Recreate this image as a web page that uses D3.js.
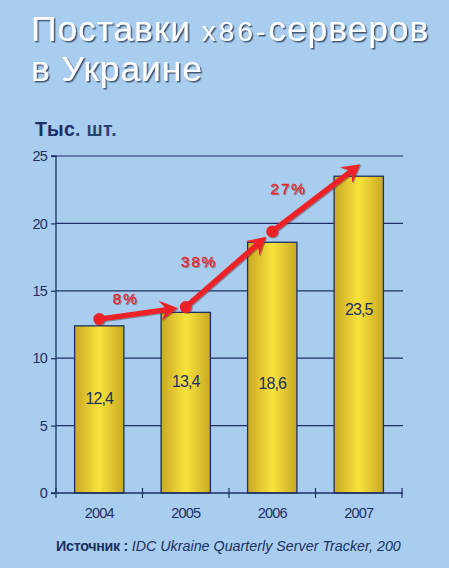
<!DOCTYPE html>
<html><head><meta charset="utf-8">
<script src="https://cdnjs.cloudflare.com/ajax/libs/d3/7.8.5/d3.min.js"></script>
<style>html,body{margin:0;padding:0;background:#a9cdee;}svg{display:block;}</style>
</head><body>
<script>
const years = ["2004", "2005", "2006", "2007"];
const shipments = [12.4, 13.4, 18.6, 23.5];
const shipmentLabels = ["12,4", "13,4", "18,6", "23,5"];
const labelAt = [6.9, 8.2, 8.0, 13.5];
const trendPoints = [12.9, 13.8, 19.4, 24.3];
const growthLabels = ["8%", "38%", "27%"];
const growthLabelAt = [14.3, 17.1, 22.5];
const yTicks = [0, 5, 10, 15, 20, 25];

const W = 449, H = 568;
const font = "Liberation Sans, Arial, sans-serif";
const svg = d3.select("body").append("svg").attr("width", W).attr("height", H);
svg.append("rect").attr("width", W).attr("height", H).attr("fill", "#a9cdee");

const navy = "#1d2f63";
const red = "#ee2226";
const x = d3.scaleBand().domain(years).range([56, 402]).paddingInner(0.43).paddingOuter(0.215);
const xb = d3.scaleBand().domain(years).range([56, 402]).padding(0);
const y = d3.scaleLinear().domain([0, 25]).range([493, 156]);

const defs = svg.append("defs");
const grad = defs.append("linearGradient").attr("id", "gold").attr("x1", "0").attr("x2", "1").attr("y1", "0").attr("y2", "0");
grad.append("stop").attr("offset", "0").attr("stop-color", "#c9a824");
grad.append("stop").attr("offset", "0.5").attr("stop-color", "#f8e33c");
grad.append("stop").attr("offset", "1").attr("stop-color", "#c9a824");
const sh = defs.append("filter").attr("id", "tshadow").attr("x", "-10%").attr("y", "-10%").attr("width", "130%").attr("height", "140%");
sh.append("feDropShadow").attr("dx", 1.5).attr("dy", 1.5).attr("stdDeviation", 0.6).attr("flood-color", "#2a3a55").attr("flood-opacity", 0.8);
const sh2 = defs.append("filter").attr("id", "rshadow").attr("x", "-10%").attr("y", "-10%").attr("width", "130%").attr("height", "140%");
sh2.append("feDropShadow").attr("dx", 1).attr("dy", 1).attr("stdDeviation", 0.5).attr("flood-color", "#3a2a2a").attr("flood-opacity", 0.45);

// Title (two separate lines)
const title1 = svg.append("text").attr("x", 31).attr("y", 41).attr("fill", "#ffffff").attr("filter", "url(#tshadow)")
  .attr("font-family", font).attr("font-size", 35.5).attr("letter-spacing", 0.9);
title1.append("tspan").text("Поставки ");
title1.append("tspan").attr("font-size", 28).attr("letter-spacing", 3).text("x86-");
title1.append("tspan").text("серверов");
svg.append("text").attr("x", 31).attr("y", 81).attr("fill", "#ffffff").attr("filter", "url(#tshadow)")
  .attr("font-family", font).attr("font-size", 35.5).attr("letter-spacing", 0.9).text("в Украине");

// Unit label
const unit = svg.append("text").attr("x", 35).attr("y", 136).attr("fill", navy)
  .attr("font-family", font).attr("font-size", 19.5).attr("letter-spacing", 0.3);
unit.append("tspan").attr("font-weight", "bold").text("Тыс");
unit.append("tspan").attr("font-weight", "bold").attr("fill-opacity", 0.9).text(". шт.");

// Gridlines
svg.append("g").selectAll("line").data(yTicks.filter(d => d > 0)).join("line")
  .attr("x1", 56).attr("x2", 403).attr("y1", d => y(d)).attr("y2", d => y(d))
  .attr("stroke", navy).attr("stroke-width", 1.2);

// Bars
svg.append("g").selectAll("rect").data(shipments).join("rect")
  .attr("x", (d, i) => x(years[i])).attr("width", x.bandwidth())
  .attr("y", d => y(d)).attr("height", d => y(0) - y(d))
  .attr("fill", "url(#gold)").attr("stroke", navy).attr("stroke-width", 1.3);

// Bar labels
svg.append("g").selectAll("text").data(shipmentLabels).join("text")
  .attr("x", (d, i) => x(years[i]) + x.bandwidth() / 2).attr("y", (d, i) => y(labelAt[i]))
  .attr("text-anchor", "middle").attr("dominant-baseline", "middle")
  .attr("fill", navy).attr("font-family", font).attr("font-size", 16)
  .attr("letter-spacing", -0.9).text(d => d);

// Axes
const yAxis = d3.axisLeft(y).tickValues(yTicks).tickSize(5).tickPadding(4).tickFormat(d3.format("d"));
const gy = svg.append("g").attr("transform", "translate(56,0)").call(yAxis);
gy.select(".domain").attr("stroke", navy).attr("stroke-width", 1.3).attr("d", "M-5,493H0V156H-5");
gy.selectAll(".tick line").attr("stroke", navy).attr("stroke-width", 1.2);
gy.selectAll(".tick text").attr("fill", navy).attr("font-size", 14.5)
  .attr("font-family", font).attr("letter-spacing", -0.8);

const gx = svg.append("g").attr("transform", "translate(0,493)");
gx.append("line").attr("x1", 56).attr("x2", 403).attr("stroke", navy).attr("stroke-width", 1.3);
const bounds = years.map(d => xb(d)).concat([xb(years[years.length - 1]) + xb.bandwidth()]);
gx.selectAll("line.tk").data(bounds).join("line").attr("class", "tk")
  .attr("x1", d => d).attr("x2", d => d).attr("y1", -5).attr("y2", 5)
  .attr("stroke", navy).attr("stroke-width", 1.2);
gx.selectAll("text").data(years).join("text")
  .attr("x", d => x(d) + x.bandwidth() / 2).attr("y", 25)
  .attr("text-anchor", "middle").attr("fill", navy)
  .attr("font-family", font).attr("font-size", 14.5)
  .attr("letter-spacing", -0.8).text(d => d);

// Trend arrows
const cx = i => x(years[i]) + x.bandwidth() / 2;
const tg = svg.append("g").attr("filter", "url(#rshadow)");
for (let i = 0; i < trendPoints.length - 1; i++) {
  const x0 = cx(i), y0 = y(trendPoints[i]);
  const xe = cx(i + 1), ye = y(trendPoints[i + 1]);
  const dx = xe - x0, dy = ye - y0, L = Math.hypot(dx, dy);
  const ux = dx / L, uy = dy / L, px = -uy, py = ux;
  const back = i === 2 ? -2 : 8;
  const tx = xe - ux * back, ty = ye - uy * back;
  const hl = 18, hw = 10, notch = 11;
  tg.append("line").attr("x1", x0).attr("y1", y0)
    .attr("x2", tx - ux * notch).attr("y2", ty - uy * notch)
    .attr("stroke", red).attr("stroke-width", 5.5).attr("stroke-linecap", "round");
  const pts = [
    [tx, ty],
    [tx - ux * hl + px * hw, ty - uy * hl + py * hw],
    [tx - ux * notch, ty - uy * notch],
    [tx - ux * hl - px * hw, ty - uy * hl - py * hw]
  ];
  tg.append("path").attr("d", "M" + pts.map(p => p.join(",")).join("L") + "Z").attr("fill", red);
}
tg.selectAll("circle").data(trendPoints.slice(0, 3)).join("circle")
  .attr("cx", (d, i) => cx(i)).attr("cy", d => y(d)).attr("r", 6).attr("fill", red);

svg.append("g").selectAll("text").data(growthLabels).join("text")
  .attr("x", (d, i) => (cx(i) + cx(i + 1)) / 2 + [-17, -30, -27][i])
  .attr("y", (d, i) => y(growthLabelAt[i]))
  .attr("text-anchor", "middle").attr("dominant-baseline", "middle")
  .attr("fill", red).attr("filter", "url(#rshadow)")
  .attr("font-family", font).attr("font-size", 15.5)
  .attr("stroke", red).attr("stroke-width", 0.3)
  .attr("letter-spacing", 1.8).text(d => d);

// Source
const src = svg.append("text").attr("x", 56).attr("y", 551).attr("fill", navy)
  .attr("font-family", font).attr("font-size", 14.3);
src.append("tspan").attr("font-weight", "bold").attr("letter-spacing", -0.3).text("Источник : ");
src.append("tspan").attr("font-style", "italic").text("IDC Ukraine Quarterly Server Tracker, 200");
</script>
</body></html>
